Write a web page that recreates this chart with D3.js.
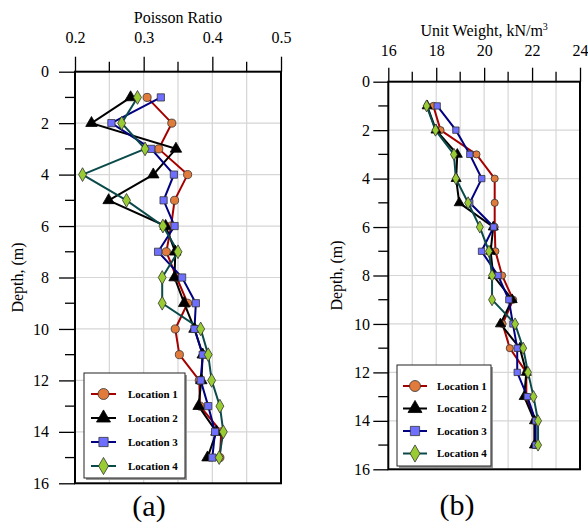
<!DOCTYPE html>
<html>
<head>
<meta charset="utf-8">
<script src="https://cdn.jsdelivr.net/npm/d3@7"></script>
<style>
  body { margin: 0; background: #fff; }
  svg text { font-family: "Liberation Serif", "Tinos", "Times New Roman", "DejaVu Serif", serif; }
</style>
</head>
<body>
<svg id="chart" width="588" height="527"></svg>
<script>
// depth of each sample, m
var depths = [1, 2, 3, 4, 5, 6, 7, 8, 9, 10, 11, 12, 13, 14, 15];

// Poisson ratio per location
var poisson1 = [0.305, 0.341, 0.322, 0.364, 0.345, 0.340, 0.333, 0.348, 0.364, 0.346, 0.352, 0.381, 0.382, 0.413, 0.411];
var poisson2 = [0.281, 0.224, 0.347, 0.314, 0.249, 0.332, 0.346, 0.345, 0.359, 0.374, 0.386, 0.384, 0.380, 0.406, 0.393];
var poisson3 = [0.325, 0.253, 0.311, 0.344, 0.329, 0.345, 0.321, 0.356, 0.376, 0.374, 0.386, 0.383, 0.394, 0.404, 0.400];
var poisson4 = [0.291, 0.268, 0.302, 0.211, 0.275, 0.328, 0.350, 0.327, 0.327, 0.383, 0.394, 0.399, 0.411, 0.416, 0.410];

// unit weight per location, kN/m3
var weight1 = [17.88, 18.18, 19.68, 20.44, 20.44, 20.44, 20.47, 20.75, 21.21, 20.77, 21.07, 21.76, 21.76, 22.11, 22.11];
var weight2 = [17.62, 17.99, 18.88, 18.83, 18.96, 20.38, 20.27, 20.38, 21.17, 20.68, 21.49, 21.76, 21.67, 22.10, 22.10];
var weight3 = [18.04, 18.82, 19.40, 19.90, 19.40, 20.40, 19.89, 20.58, 21.03, 21.20, 21.38, 21.38, 21.80, 22.15, 22.15];
var weight4 = [17.60, 17.97, 18.74, 18.82, 19.33, 19.82, 20.20, 20.33, 20.33, 21.29, 21.63, 21.83, 22.06, 22.25, 22.25];

// tick labels
var poissonTicks = [0.2, 0.3, 0.4, 0.5];
var weightTicks = [16, 18, 20, 22, 24];
var depthTicks = [0, 2, 4, 6, 8, 10, 12, 14, 16];

var locations = ["Location 1", "Location 2", "Location 3", "Location 4"];

var SERIF = "'Liberation Serif', Tinos, 'Times New Roman', 'DejaVu Serif', serif";

// look of each location
var styles = [
    {line: "#a50000", fill: "#e07b3c", shape: d3.symbolCircle},
    {line: "#000000", fill: "#000000", shape: d3.symbolTriangle},
    {line: "#000080", fill: "#6f6fff", shape: d3.symbolSquare},
    {line: "#0b4a4a", fill: "#99cc33", shape: d3.symbolDiamond}
];

var svg = d3.select("#chart");

// panel (a)
drawPanel({
    left: 75, right: 281, top: 71.7, bottom: 483.3,
    domain: [0.2, 0.5], ticks: poissonTicks, minorStep: 0.05, gridStep: 0.05,
    fmt: d3.format(".1f"),
    series: [poisson1, poisson2, poisson3, poisson4],
    title: "Poisson Ratio", titleY: 23, tickY: 43,
    yLabelRight: 49, yTitleX: 17,
    majorLen: 15, minorLen: 10, markerSize: 52,
    legend: {x: 84, y: 373, w: 101, h: 105, rowY: 21, gap: 24, lineX: [91, 116], textX: 128},
    caption: "(a)", capX: 149, capY: 516
});

// panel (b)
drawPanel({
    left: 388.3, right: 580, top: 81.7, bottom: 469.3,
    domain: [16, 24], ticks: weightTicks, minorStep: 1, gridStep: 1,
    fmt: d3.format("d"),
    series: [weight1, weight2, weight3, weight4],
    title: "Unit Weight, kN/m", sup: "3", titleY: 36, tickY: 56,
    yLabelRight: 370, yTitleX: 336,
    majorLen: 14, minorLen: 10, markerSize: 40,
    legend: {x: 397, y: 365, w: 94, h: 101, rowY: 21, gap: 22.5, lineX: [403, 427], textX: 437},
    caption: "(b)", capX: 457, capY: 515
});

function drawPanel(p)
{
    var xScale = d3.scaleLinear().domain(p.domain).range([p.left, p.right]),
        yScale = d3.scaleLinear().domain([0, 16]).range([p.top, p.bottom]);

    var g = svg.append("g").attr("font-family", SERIF);

    // grid lines
    g.append("g")
        .selectAll("line")
        .data(d3.range(p.domain[0] + p.gridStep, p.domain[1] - p.gridStep / 2, p.gridStep))
        .enter()
        .append("line")
        .attr("x1", d => xScale(d)).attr("x2", d => xScale(d))
        .attr("y1", p.top).attr("y2", p.bottom)
        .attr("stroke", "#d6d6d6").attr("stroke-width", 1.2);

    g.append("g")
        .selectAll("line")
        .data(depthTicks.slice(1, -1))
        .enter()
        .append("line")
        .attr("x1", p.left).attr("x2", p.right)
        .attr("y1", d => yScale(d)).attr("y2", d => yScale(d))
        .attr("stroke", "#d6d6d6").attr("stroke-width", 1.2);

    // top axis: major ticks with labels, then minor ticks
    var xAxis = d3.axisTop(xScale)
        .tickValues(p.ticks)
        .tickFormat(p.fmt)
        .tickSize(p.majorLen);
    var xg = g.append("g")
        .attr("transform", "translate(0," + p.top + ")")
        .call(xAxis)
        .attr("font-family", SERIF)
        .attr("font-size", 16);
    xg.select(".domain").remove();
    xg.selectAll(".tick line").attr("stroke", "#000").attr("stroke-width", 1.3);
    xg.selectAll(".tick text")
        .attr("y", p.tickY - p.top)
        .attr("dy", 0)
        .attr("fill", "#000");

    var minorX = p.ticks.slice(0, -1).map(t => t + p.minorStep);
    g.append("g")
        .selectAll("line")
        .data(minorX)
        .enter()
        .append("line")
        .attr("x1", d => xScale(d)).attr("x2", d => xScale(d))
        .attr("y1", p.top - p.minorLen).attr("y2", p.top)
        .attr("stroke", "#000").attr("stroke-width", 1.3);

    // left axis
    var yAxis = d3.axisLeft(yScale)
        .tickValues(depthTicks)
        .tickFormat(d3.format("d"))
        .tickSize(p.majorLen + 1);
    var yg = g.append("g")
        .attr("transform", "translate(" + p.left + ",0)")
        .call(yAxis)
        .attr("font-family", SERIF)
        .attr("font-size", 16);
    yg.select(".domain").remove();
    yg.selectAll(".tick line").attr("stroke", "#000").attr("stroke-width", 1.3);
    yg.selectAll(".tick text")
        .attr("x", p.yLabelRight - p.left)
        .attr("fill", "#000");

    g.append("g")
        .selectAll("line")
        .data(depthTicks.slice(0, -1).map(d => d + 1))
        .enter()
        .append("line")
        .attr("x1", p.left - p.minorLen).attr("x2", p.left)
        .attr("y1", d => yScale(d)).attr("y2", d => yScale(d))
        .attr("stroke", "#000").attr("stroke-width", 1.3);

    // frame
    g.append("rect")
        .attr("x", p.left).attr("y", p.top)
        .attr("width", p.right - p.left).attr("height", p.bottom - p.top)
        .attr("fill", "none").attr("stroke", "#000").attr("stroke-width", 2);

    // axis titles
    var title = g.append("text")
        .attr("x", (p.left + p.right) / 2)
        .attr("y", p.titleY)
        .attr("text-anchor", "middle")
        .attr("font-size", 16)
        .text(p.title);
    if (p.sup)
        title.append("tspan")
            .attr("dy", -6)
            .attr("font-size", 10)
            .text(p.sup);

    g.append("text")
        .attr("transform", "translate(" + p.yTitleX + "," + ((p.top + p.bottom) / 2) + ") rotate(-90)")
        .attr("text-anchor", "middle")
        .attr("dy", "0.35em")
        .attr("font-size", 16)
        .text("Depth, (m)");

    // lines and markers
    var lineGen = d3.line()
        .x(d => xScale(d[0]))
        .y(d => yScale(d[1]));

    p.series.forEach((vals, i) => {
        var pts = vals.map((v, j) => [v, depths[j]]);
        g.append("path")
            .attr("d", lineGen(pts))
            .attr("fill", "none")
            .attr("stroke", styles[i].line)
            .attr("stroke-width", 2);
    });

    p.series.forEach((vals, i) => {
        var size = p.markerSize * (i == 1 ? 1.1 : i == 3 ? 1.05 : 1);
        g.append("g")
            .selectAll("path")
            .data(vals.map((v, j) => [v, depths[j]]))
            .enter()
            .append("path")
            .attr("d", d3.symbol().type(styles[i].shape).size(size))
            .attr("transform", d => "translate(" + xScale(d[0]) + "," + yScale(d[1]) + ")")
            .attr("fill", styles[i].fill)
            .attr("stroke", i == 1 ? "#000" : "#333")
            .attr("stroke-width", 0.8);
    });

    // legend
    var L = p.legend;
    var lg = g.append("g");
    lg.append("rect")
        .attr("x", L.x + 2).attr("y", L.y + 2)
        .attr("width", L.w).attr("height", L.h)
        .attr("fill", "#999");
    lg.append("rect")
        .attr("x", L.x).attr("y", L.y)
        .attr("width", L.w).attr("height", L.h)
        .attr("fill", "#fff").attr("stroke", "#222").attr("stroke-width", 1);

    locations.forEach((name, i) => {
        var y = L.y + L.rowY + i * L.gap,
            mx = (L.lineX[0] + L.lineX[1]) / 2;
        lg.append("line")
            .attr("x1", L.lineX[0]).attr("x2", L.lineX[1])
            .attr("y1", y).attr("y2", y)
            .attr("stroke", styles[i].line).attr("stroke-width", 2);
        lg.append("path")
            .attr("d", d3.symbol().type(styles[i].shape).size(i == 0 ? 95 : 85))
            .attr("transform", "translate(" + mx + "," + y + ")")
            .attr("fill", styles[i].fill)
            .attr("stroke", i == 1 ? "#000" : "#333")
            .attr("stroke-width", 0.8);
        lg.append("text")
            .attr("x", L.textX)
            .attr("y", y)
            .attr("dy", "0.35em")
            .attr("font-size", 11)
            .attr("font-weight", "bold")
            .text(name);
    });

    // panel caption
    g.append("text")
        .attr("x", p.capX)
        .attr("y", p.capY)
        .attr("text-anchor", "middle")
        .attr("font-size", 30)
        .text(p.caption);
}
</script>
</body>
</html>
